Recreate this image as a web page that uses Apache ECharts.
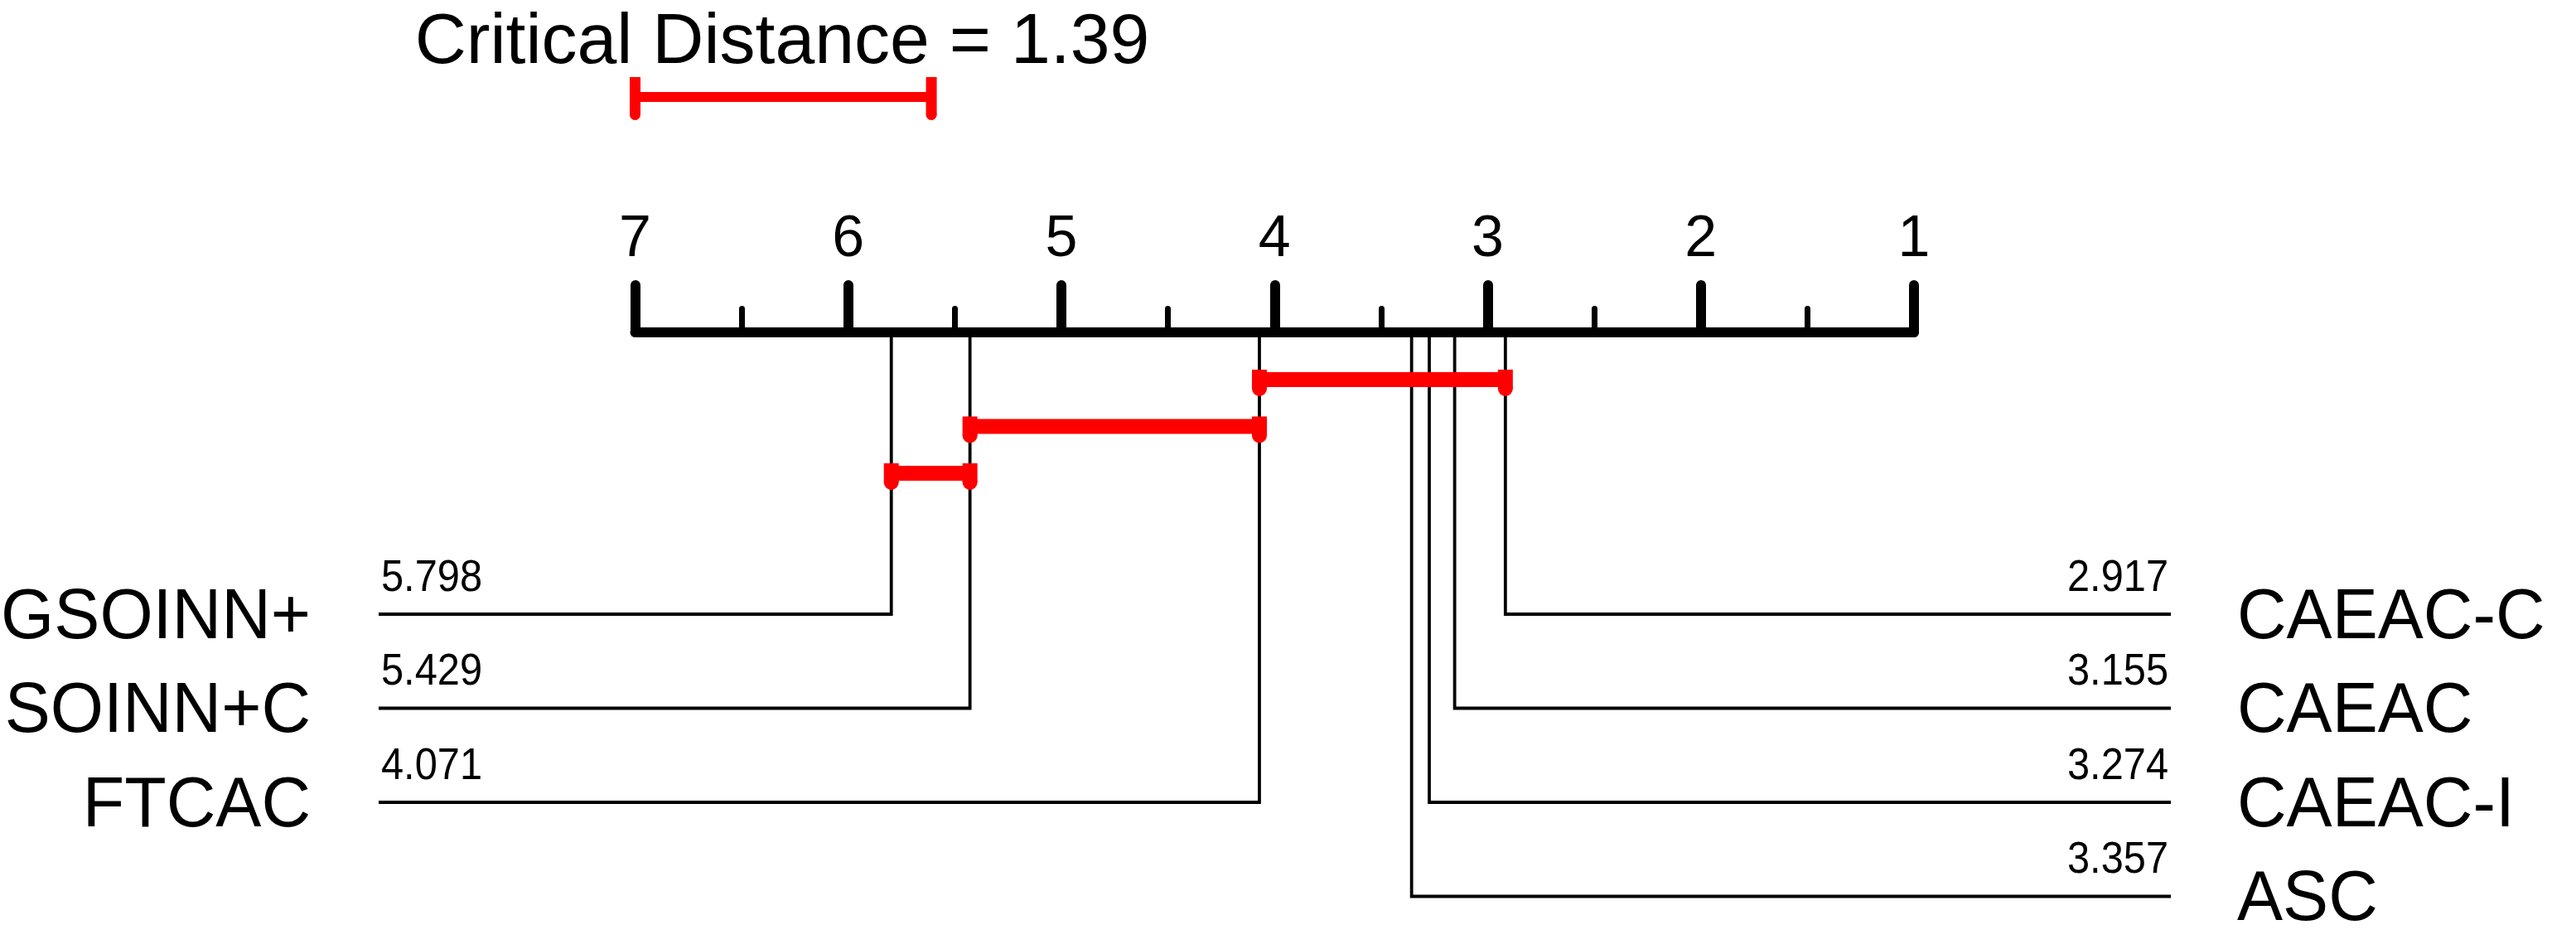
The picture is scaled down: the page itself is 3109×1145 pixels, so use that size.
<!DOCTYPE html>
<html>
<head>
<meta charset="utf-8">
<script src="https://cdn.jsdelivr.net/npm/echarts@6/dist/echarts.min.js"></script>
<style>
  html, body { margin: 0; padding: 0; background: #fff; }
  #main { width: 3109px; height: 1145px; }
</style>
</head>
<body>
<div id="main"></div>
<script>
// average ranks, worse ones on the left side
var leftNames = ['GSOINN+', 'SOINN+C', 'FTCAC'];
var leftRanks = [5.798, 5.429, 4.071];
var rightNames = ['CAEAC-C', 'CAEAC', 'CAEAC-I', 'ASC'];
var rightRanks = [2.917, 3.155, 3.274, 3.357];
// groups that are not significantly different
var cliqueFrom = [4.071, 5.429, 5.798];
var cliqueTo = [2.917, 4.071, 5.429];
var criticalDistance = 1.39;
var rankTicks = [1, 2, 3, 4, 5, 6, 7];

// layout (pixels)
var W = 3109, H = 1145;
var axisY = 401, axisLeft = 766.5, axisRight = 2310;
var rowY0 = 741, rowStep = 113.5;
var barY0 = 458, barStep = 56.5, barH = 18, markW = 18;
var leftEnd = 457, rightEnd = 2620;
var leftNameX = 375, rightNameX = 2700;
var FONT = '"Liberation Sans", Arial, sans-serif';

var methodData = [];
leftNames.forEach(function (n, i) { methodData.push([leftRanks[i], i, 0, n]); });
rightNames.forEach(function (n, i) { methodData.push([rightRanks[i], i, 1, n]); });

var cliqueData = cliqueFrom.map(function (a, i) { return [a, cliqueTo[i], i]; });

function renderMethod(params, api) {
  var rank = api.value(0), row = api.value(1), side = api.value(2);
  var name = methodData[params.dataIndex][3];
  var y = rowY0 + row * rowStep;
  var p = api.coord([rank, y]);
  var endX = side === 0 ? leftEnd : rightEnd;
  return {
    type: 'group',
    children: [
      {
        type: 'polyline',
        shape: { points: [[p[0], axisY + 4], [p[0], p[1]], [endX, p[1]]] },
        style: { stroke: '#000', lineWidth: 3.8, fill: null, lineJoin: 'miter' }
      },
      {
        type: 'text',
        x: side === 0 ? leftEnd + 3 : rightEnd - 3,
        y: p[1] - 43,
        scaleX: 0.92,
        style: {
          text: rank.toFixed(3), fill: '#000', font: '53px ' + FONT,
          align: side === 0 ? 'left' : 'right', verticalAlign: 'middle'
        }
      },
      {
        type: 'text',
        x: side === 0 ? leftNameX : rightNameX,
        y: p[1] + 5,
        scaleX: 0.96,
        style: {
          text: name, fill: '#000', font: '86px ' + FONT,
          align: side === 0 ? 'right' : 'left', verticalAlign: 'middle'
        }
      }
    ]
  };
}

function marker(x, top, bottom, w) {
  return [
    { type: 'rect', shape: { x: x - w / 2, y: top, width: w, height: bottom - top }, style: { fill: '#ff0000' } },
    { type: 'circle', shape: { cx: x, cy: bottom, r: w / 2 }, style: { fill: '#ff0000' } }
  ];
}

function renderClique(params, api) {
  var y = barY0 + api.value(2) * barStep;
  var a = api.coord([api.value(0), y]);
  var b = api.coord([api.value(1), y]);
  var top = y - barH / 2, bottom = y + barH / 2;
  var kids = [
    { type: 'rect', shape: { x: Math.min(a[0], b[0]), y: top, width: Math.abs(b[0] - a[0]), height: barH }, style: { fill: '#ff0000' } }
  ];
  kids = kids.concat(marker(a[0], top - 3, bottom + 2, markW), marker(b[0], top - 3, bottom + 2, markW));
  return { type: 'group', children: kids };
}

function renderCD(params, api) {
  var y = 117;
  var a = api.coord([api.value(0), y]);
  var b = api.coord([api.value(1), y]);
  var kids = [
    { type: 'rect', shape: { x: a[0], y: y - 6, width: b[0] - a[0], height: 12 }, style: { fill: '#ff0000' } }
  ];
  kids = kids.concat(marker(a[0], 93, 138.5, 13), marker(b[0], 93, 138.5, 13));
  return { type: 'group', children: kids };
}

var chart = echarts.init(document.getElementById('main'), null, { renderer: 'canvas' });
chart.setOption({
  backgroundColor: '#fff',
  animation: false,
  graphic: [{
    type: 'text', x: 944, y: 52,
    style: {
      text: 'Critical Distance = ' + criticalDistance, fill: '#000', font: '86px ' + FONT,
      align: 'center', verticalAlign: 'middle'
    }
  }],
  grid: [
    { left: axisLeft, right: W - axisRight, top: axisY, height: 1 },
    { left: axisLeft, right: W - axisRight, top: 0, bottom: 0 }
  ],
  xAxis: [{
    type: 'value', gridIndex: 0, position: 'top', inverse: true,
    min: rankTicks[0], max: rankTicks[rankTicks.length - 1], interval: 1,
    axisLine: { show: true, onZero: false, lineStyle: { color: '#000', width: 12, cap: 'round' } },
    axisTick: { show: true, inside: false, length: 57, lineStyle: { color: '#000', width: 12, cap: 'round' } },
    minorTick: { show: true, splitNumber: 2, length: 28.5, lineStyle: { color: '#000', width: 7, cap: 'round' } },
    axisLabel: {
      show: true, margin: 76, color: '#000', fontSize: 70, fontFamily: FONT,
      formatter: function (v) { return rankTicks.indexOf(v) >= 0 ? String(v) : ''; }
    },
    splitLine: { show: false }
  }, {
    type: 'value', gridIndex: 1, inverse: true,
    min: rankTicks[0], max: rankTicks[rankTicks.length - 1], show: false
  }],
  yAxis: [
    { type: 'value', gridIndex: 0, show: false },
    { type: 'value', gridIndex: 1, min: 0, max: H, inverse: true, show: false }
  ],
  series: [
    { type: 'custom', xAxisIndex: 1, yAxisIndex: 1, renderItem: renderMethod, data: methodData, z: 2 },
    { type: 'custom', xAxisIndex: 1, yAxisIndex: 1, renderItem: renderClique, data: cliqueData, z: 3 },
    { type: 'custom', xAxisIndex: 1, yAxisIndex: 1, renderItem: renderCD, data: [[rankTicks[rankTicks.length - 1], rankTicks[rankTicks.length - 1] - criticalDistance]], z: 3 }
  ]
});
</script>
</body>
</html>
